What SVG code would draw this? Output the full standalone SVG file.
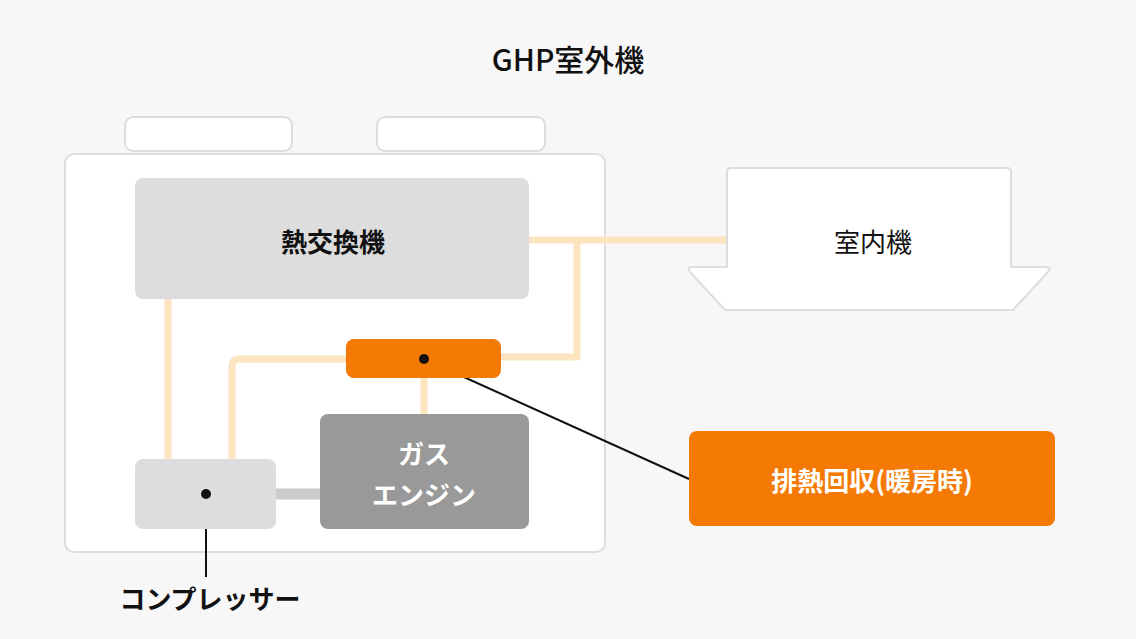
<svg xmlns="http://www.w3.org/2000/svg" width="1136" height="639" viewBox="0 0 1136 639">
<style>
text{font-family:"Noto Sans CJK JP","Noto Sans",sans-serif;text-anchor:middle;dominant-baseline:central}
.pipe{fill:none;stroke:#fce4c0;stroke-width:7;stroke-linejoin:round}
.lead{stroke:#111;stroke-width:2;fill:none}
.w{fill:#fff;stroke:#ddd;stroke-width:2}
</style>
<rect width="1136" height="639" fill="#f7f7f7"/>
<text x="568" y="58" font-size="30" font-weight="500" fill="#111">GHP室外機</text>
<g id="outdoor">
<rect class="w" x="125" y="117" width="167" height="34" rx="8"/>
<rect class="w" x="377" y="117" width="168" height="34" rx="8"/>
<rect class="w" x="65" y="154" width="540" height="398" rx="9"/>
</g>
<g id="connectors">
<path class="pipe" d="M168 299V459"/>
<path class="pipe" d="M232 459V367Q232 359 240 359H346"/>
<path class="pipe" d="M501 357H577V240"/>
<path class="pipe" d="M529 240H727"/>
<path class="pipe" d="M424 378V414"/>
<path d="M276 494H320" stroke="#ccc" stroke-width="11"/>
<path class="lead" d="M424 359L689 479"/>
<path class="lead" d="M206 494V577"/>
</g>
<g id="heat-exchanger">
<rect x="135" y="178" width="394" height="121" rx="8" fill="#ddd"/>
<text x="333" y="240" font-size="26" font-weight="bold" fill="#111">熱交換機</text>
</g>
<g id="compressor">
<rect x="135" y="459" width="141" height="70" rx="8" fill="#ddd"/>
<circle cx="206" cy="494" r="5" fill="#111"/>
<text x="210" y="597" font-size="26" font-weight="bold" fill="#111">コンプレッサー</text>
</g>
<g id="gas-engine">
<rect x="320" y="414" width="209" height="115" rx="8" fill="#999"/>
<text x="424" y="452" font-size="26" font-weight="bold" fill="#fff">ガス</text>
<text x="424" y="493" font-size="26" font-weight="bold" fill="#fff">エンジン</text>
</g>
<g id="heat-recovery-unit">
<rect x="346" y="339" width="155" height="39" rx="8" fill="#f47a05"/>
<circle cx="424" cy="359" r="5" fill="#111"/>
</g>
<g id="indoor">
<path class="w" stroke-linejoin="round" d="M731 168H1007Q1011 168 1011 172V267H1046Q1052 267 1048 272L1013 310H725L690 272Q686 267 692 267H727V172Q727 168 731 168Z"/>
<text x="873" y="240" font-size="26" fill="#111">室内機</text>
</g>
<g id="label">
<rect x="689" y="431" width="366" height="95" rx="8" fill="#f47a05"/>
<text x="872" y="479" font-size="26" font-weight="bold" fill="#fff">排熱回収(暖房時)</text>
</g>
</svg>
